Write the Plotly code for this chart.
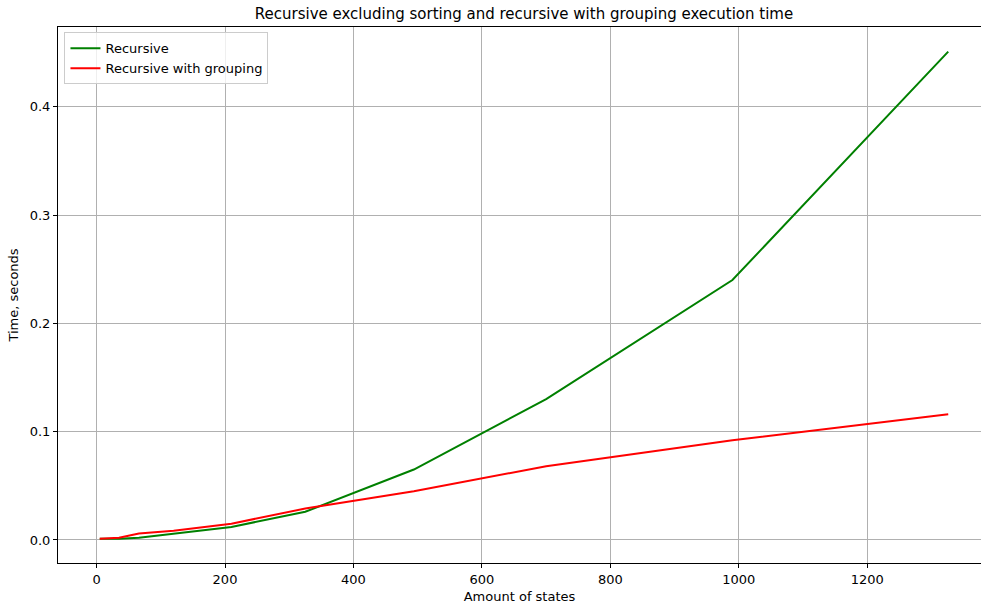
import plotly.graph_objects as go

# Execution time (seconds) versus number of states
states = [5, 35, 66, 120, 210, 325, 494, 700, 990, 1326]
recursive = [0.001, 0.001, 0.002, 0.006, 0.012, 0.026, 0.065, 0.130, 0.240, 0.451]
recursive_grouping = [0.001, 0.002, 0.006, 0.0085, 0.015, 0.029, 0.045, 0.068, 0.092, 0.116]

x_ticks = [0, 200, 400, 600, 800, 1000, 1200]
y_ticks = [0.0, 0.1, 0.2, 0.3, 0.4]

font_family = "DejaVu Sans"

fig = go.Figure()
fig.add_trace(go.Scatter(x=states, y=recursive, mode="lines", name="Recursive",
                         line=dict(color="#008000", width=2)))
fig.add_trace(go.Scatter(x=states, y=recursive_grouping, mode="lines", name="Recursive with grouping",
                         line=dict(color="#ff0000", width=2)))

fig.update_layout(
    width=981, height=605,
    margin=dict(l=58, r=0, t=27, b=42),
    paper_bgcolor="white", plot_bgcolor="white",
    font=dict(family=font_family, size=13, color="black"),
    title=dict(text="Recursive excluding sorting and recursive with grouping execution time",
               x=(58 + 990) / 2 / 981, xanchor="center", y=1 - 14 / 605, yanchor="middle",
               font=dict(size=15, family=font_family, color="black")),
    showlegend=True,
    legend=dict(x=0.007, y=0.99, xanchor="left", yanchor="top",
                bgcolor="rgba(255,255,255,0.8)", bordercolor="#cccccc", borderwidth=1,
                font=dict(size=13, family=font_family), tracegroupgap=0,
                itemwidth=30),
)

fig.update_xaxes(
    range=[-60, 1377],
    tickvals=x_ticks, ticktext=[str(v) for v in x_ticks],
    showgrid=True, gridcolor="#b0b0b0", gridwidth=1,
    zeroline=False,
    showline=True, linecolor="black", linewidth=1, mirror=True,
    ticks="outside", ticklen=4, tickcolor="black",
    title=dict(text="Amount of states", font=dict(size=13), standoff=6),
)
fig.update_yaxes(
    range=[-0.0213, 0.4737],
    tickvals=y_ticks, ticktext=[f"{v:.1f}" for v in y_ticks],
    showgrid=True, gridcolor="#b0b0b0", gridwidth=1,
    zeroline=False,
    showline=True, linecolor="black", linewidth=1, mirror=False,
    ticks="outside", ticklen=4, tickcolor="black",
    title=dict(text="Time, seconds", font=dict(size=13), standoff=8),
)

fig.write_html("out.html")
